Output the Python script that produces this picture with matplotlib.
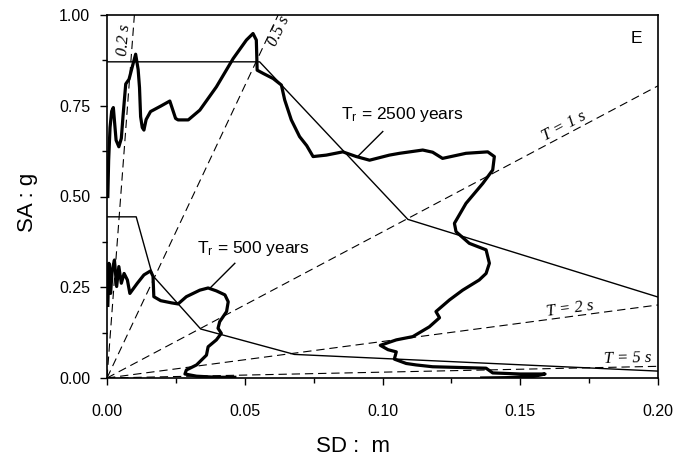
import numpy as np
import matplotlib
matplotlib.use("Agg")
import matplotlib.pyplot as plt

plt.rcParams['font.family'] = ['Liberation Sans', 'DejaVu Sans']
plt.rcParams['mathtext.fontset'] = 'custom'
plt.rcParams['mathtext.rm'] = 'Liberation Sans'
plt.rcParams['mathtext.it'] = 'Liberation Sans:italic'
plt.rcParams['lines.scale_dashes'] = False

# ---- data ----
periods = [0.2, 0.5, 1.0, 2.0, 5.0]          # s, constant-period lines
g_acc = 9.81

# Design spectra (SD m, SA g)
design2500_sd = [0.0, 0.0554, 0.1092, 0.2]
design2500_sa = [0.871, 0.871, 0.437, 0.223]
design500_sd = [0.0, 0.0106, 0.0165, 0.0340, 0.0680, 0.2]
design500_sa = [0.444, 0.444, 0.283, 0.135, 0.065, 0.019]

# Demand spectrum, Tr = 2500 years
r2500_sd = [0.0003, 0.0006, 0.0011, 0.0017, 0.0023, 0.0028, 0.0033, 0.0043, 0.0052, 0.0058,
            0.0068, 0.0080, 0.0092, 0.0104, 0.0113, 0.0118, 0.0122, 0.0128, 0.0134, 0.0142,
            0.0158, 0.0195, 0.0228, 0.0249, 0.0258, 0.0295, 0.0337, 0.0397, 0.0458, 0.0506,
            0.0530, 0.0542, 0.0545, 0.0567, 0.0603, 0.0633, 0.0645, 0.0669, 0.0699, 0.0725,
            0.0748, 0.0796, 0.0856, 0.0905, 0.0953, 0.1025, 0.1062, 0.1146, 0.1182, 0.1218,
            0.1303, 0.1382, 0.1406, 0.1400, 0.1364, 0.1303, 0.1261, 0.1267, 0.1315, 0.1376,
            0.1388, 0.1376, 0.1351, 0.1291, 0.1243, 0.1194, 0.1207, 0.1170, 0.1110, 0.1050,
            0.0992, 0.1020, 0.1050, 0.1043, 0.1086, 0.1122, 0.1182, 0.1376, 0.1400, 0.1500,
            0.1590, 0.1540, 0.1450, 0.1360]
r2500_sa = [0.50, 0.60, 0.69, 0.735, 0.745, 0.70, 0.655, 0.637, 0.66, 0.72,
            0.81, 0.823, 0.858, 0.892, 0.85, 0.80, 0.72, 0.69, 0.683, 0.712,
            0.734, 0.749, 0.763, 0.715, 0.711, 0.711, 0.738, 0.802, 0.880, 0.931,
            0.949, 0.931, 0.848, 0.839, 0.825, 0.807, 0.766, 0.711, 0.665, 0.640,
            0.610, 0.614, 0.623, 0.610, 0.600, 0.614, 0.619, 0.628, 0.622, 0.605,
            0.619, 0.623, 0.610, 0.573, 0.536, 0.481, 0.426, 0.403, 0.371, 0.353,
            0.316, 0.288, 0.270, 0.242, 0.215, 0.183, 0.166, 0.141, 0.114, 0.105,
            0.090, 0.078, 0.072, 0.052, 0.040, 0.036, 0.031, 0.027, 0.014, 0.011,
            0.011, 0.003, 0.001, 0.000]

# Demand spectrum, Tr = 500 years
r500_sd = [0.0003, 0.0007, 0.0013, 0.0019, 0.0027, 0.0035, 0.0043, 0.0052, 0.0062, 0.0074,
           0.0083, 0.0110, 0.0134, 0.0158, 0.0167, 0.0170, 0.0195, 0.0234, 0.0258, 0.0288,
           0.0337, 0.0367, 0.0397, 0.0428, 0.0440, 0.0434, 0.0409, 0.0403, 0.0415, 0.0397,
           0.0367, 0.0361, 0.0325, 0.0288, 0.0283, 0.0325, 0.0397, 0.0464]
r500_sa = [0.20, 0.316, 0.233, 0.298, 0.325, 0.252, 0.307, 0.261, 0.288, 0.270,
           0.233, 0.261, 0.284, 0.295, 0.280, 0.224, 0.213, 0.207, 0.204, 0.224,
           0.242, 0.248, 0.240, 0.229, 0.210, 0.183, 0.155, 0.137, 0.123, 0.105,
           0.086, 0.063, 0.036, 0.022, 0.011, 0.005, 0.002, 0.002]

x_ticks = [0.00, 0.05, 0.10, 0.15, 0.20]
y_ticks = [0.00, 0.25, 0.50, 0.75, 1.00]
XMAX, YMAX = 0.2, 1.0

# period label positions (SD where the label sits on its line)
plabel_T = [0.2, 0.5, 1.0, 2.0, 5.0]
plabel_text = ["0.2 s", "0.5 s", "T = 1 s", "T = 2 s", "T = 5 s"]
plabel_sd = [0.00925, 0.0600, 0.1673, 0.1685, 0.1890]
plabel_va = ['bottom', 'top', 'bottom', 'bottom', 'bottom']

# ---- figure ----
fig = plt.figure(figsize=(6.78, 4.59), dpi=100)
ax = fig.add_axes([107/678, 1-378/459, 551/678, 363/459])

ax.set_xlim(0, XMAX)
ax.set_ylim(0, YMAX)

# constant-period lines
for T in periods:
    k = (2*np.pi/T)**2 / g_acc
    xe = min(XMAX, YMAX/k)
    ax.plot([0, xe], [0, k*xe], color='black', lw=0.8, dashes=(6, 3.5))

# design spectra
ax.plot(design2500_sd, design2500_sa, color='black', lw=1.0)
ax.plot(design500_sd, design500_sa, color='black', lw=1.0)

# demand spectra
ax.plot(r2500_sd, r2500_sa, color='black', lw=2.3, solid_joinstyle='round')
ax.plot(r500_sd, r500_sa, color='black', lw=2.3, solid_joinstyle='round')

ax.set_xticks(x_ticks)
ax.set_yticks(y_ticks)
ax.set_xticklabels([f"{v:.2f}" for v in x_ticks])
ax.set_yticklabels([f"{v:.2f}" for v in y_ticks])
ax.set_xticks(np.arange(0.025, 0.2, 0.05), minor=True)
ax.set_yticks(np.arange(0.125, 1.0, 0.25), minor=True)
ax.tick_params(which='major', direction='out', length=5, width=1.0, labelsize=11.5)
ax.tick_params(which='minor', direction='out', length=3.5, width=1.0)
ax.tick_params(axis='x', which='major', pad=14)
ax.tick_params(axis='y', which='major', pad=7)
for s in ax.spines.values():
    s.set_linewidth(1.2)

ax.set_xlabel("SD :  m", fontsize=16)
ax.set_ylabel("SA : g", fontsize=16)
ax.xaxis.label.set_va('center')
ax.yaxis.label.set_va('center')
ax.xaxis.set_label_coords(0.447, (378-447)/363)
ax.yaxis.set_label_coords((27-107)/551, 0.485)

# period labels, drawn along their lines
fig.canvas.draw()
for T, txt, sd, va in zip(plabel_T, plabel_text, plabel_sd, plabel_va):
    k = (2*np.pi/T)**2 / g_acc
    p0 = ax.transData.transform((0, 0))
    p1 = ax.transData.transform((0.01, 0.01*k))
    ang = np.degrees(np.arctan2(p1[1]-p0[1], p1[0]-p0[0]))
    ax.text(sd, k*sd, txt, rotation=ang, rotation_mode='anchor', ha='center', va=va,
            family=['Liberation Serif', 'DejaVu Serif'], style='italic', fontsize=12)

# return-period annotations
ax.text(0.0850, 0.727, r"T$_\mathrm{r}$ = 2500 years", fontsize=12.5, ha='left', va='center')
ax.plot([0.1001, 0.0911], [0.679, 0.611], color='black', lw=1.0)
ax.text(0.0325, 0.358, r"T$_\mathrm{r}$ = 500 years", fontsize=12.5, ha='left', va='center')
ax.plot([0.0464, 0.0373], [0.316, 0.247], color='black', lw=1.0)

ax.text(0.1922, 0.935, "E", fontsize=12.5, ha='center', va='center')

fig.savefig("out.png", dpi=100)
